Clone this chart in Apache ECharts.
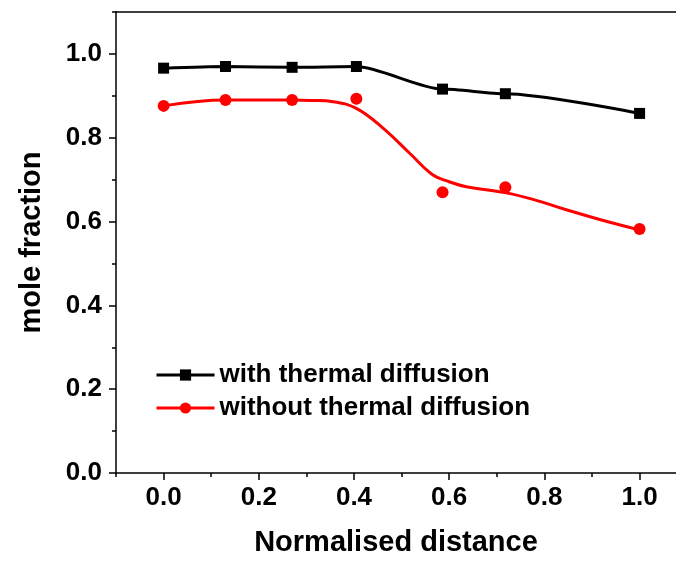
<!DOCTYPE html>
<html>
<head>
<meta charset="utf-8">
<script src="https://cdn.jsdelivr.net/npm/echarts@6/dist/echarts.min.js"></script>
<style>
html,body{margin:0;padding:0;background:#fff;}
#chart{width:676px;height:566px;}
</style>
</head>
<body>
<div id="chart"></div>
<script>
// ---- data ----
const xValues = [0, 0.13, 0.27, 0.405, 0.586, 0.718, 1.0];
const withThermal = [0.966, 0.970, 0.968, 0.970, 0.916, 0.905, 0.858];
const withoutThermal = [0.876, 0.890, 0.890, 0.893, 0.670, 0.682, 0.582];
// smoothed curve drawn through the "without" data
const fitX = [0, 0.13, 0.27, 0.31, 0.356, 0.405, 0.461, 0.517, 0.566, 0.60, 0.636, 0.717, 0.776, 0.846, 0.916, 1.0];
const fitY = [0.876, 0.890, 0.890, 0.889, 0.886, 0.870, 0.823, 0.763, 0.711, 0.695, 0.683, 0.669, 0.653, 0.628, 0.605, 0.580];

const xMajorTicks = [0, 0.2, 0.4, 0.6, 0.8, 1.0];
const xMinorTicks = [-0.1, 0.1, 0.3, 0.5, 0.7, 0.9];
const yMajorTicks = [0, 0.2, 0.4, 0.6, 0.8, 1.0];
const yMinorTicks = [0.1, 0.3, 0.5, 0.7, 0.9, 1.1];

const seriesNames = ['with thermal diffusion', 'without thermal diffusion'];
const xTitle = 'Normalised distance';
const yTitle = 'mole fraction';

const FONT = '"Liberation Sans", Arial, sans-serif';
const zip = (a, b) => a.map((v, i) => [v, b[i]]);
const fmt = v => Number(v).toFixed(1);

const XMIN = -0.1, XMAX = 1.0765, YMIN = 0, YMAX = 1.1;
const axisLine = {show: true, onZero: false, lineStyle: {color: '#000', width: 1.5}};
const noLine = {show: false, onZero: false};

const chart = echarts.init(document.getElementById('chart'), null, {renderer: 'canvas'});
chart.setOption({
  animation: false,
  backgroundColor: '#fff',
  grid: {left: 116, right: 0, top: 12, bottom: 93, containLabel: false},
  xAxis: [
    {
      type: 'value', min: XMIN, max: XMAX, position: 'bottom',
      axisLine: axisLine,
      axisTick: {show: true, customValues: xMajorTicks, length: 7, lineStyle: {color: '#000', width: 1.5}},
      axisLabel: {show: true, customValues: xMajorTicks, formatter: fmt, margin: 12,
        color: '#000', fontSize: 26, fontWeight: 'bold', fontFamily: FONT},
      splitLine: {show: false},
      name: xTitle, nameLocation: 'middle', nameGap: 55,
      nameTextStyle: {color: '#000', fontSize: 29, fontWeight: 'bold', fontFamily: FONT}
    },
    {
      type: 'value', min: XMIN, max: XMAX, position: 'bottom', offset: 0,
      axisLine: noLine,
      axisTick: {show: true, customValues: xMinorTicks, length: 4, lineStyle: {color: '#000', width: 1.5}},
      axisLabel: {show: false},
      splitLine: {show: false}
    },
    {
      type: 'value', min: XMIN, max: XMAX, position: 'top',
      axisLine: axisLine, axisTick: {show: false}, axisLabel: {show: false}, splitLine: {show: false}
    }
  ],
  yAxis: [
    {
      type: 'value', min: YMIN, max: YMAX, position: 'left',
      axisLine: axisLine,
      axisTick: {show: true, customValues: yMajorTicks, length: 7, lineStyle: {color: '#000', width: 1.5}},
      axisLabel: {show: true, customValues: yMajorTicks, formatter: fmt, margin: 14,
        color: '#000', fontSize: 26, fontWeight: 'bold', fontFamily: FONT},
      splitLine: {show: false},
      name: yTitle, nameLocation: 'middle', nameGap: 70, nameRotate: 90,
      nameTextStyle: {color: '#000', fontSize: 29, fontWeight: 'bold', fontFamily: FONT}
    },
    {
      type: 'value', min: YMIN, max: YMAX, position: 'left', offset: 0,
      axisLine: noLine,
      axisTick: {show: true, customValues: yMinorTicks, length: 4, lineStyle: {color: '#000', width: 1.5}},
      axisLabel: {show: false},
      splitLine: {show: false}
    }
  ],
  legend: {
    orient: 'vertical', left: 150, top: 357,
    itemWidth: 58, itemHeight: 14, itemGap: 7,
    textStyle: {color: '#000', fontSize: 26, fontWeight: 'bold', fontFamily: FONT},
    data: [
      {name: seriesNames[0], lineStyle: {opacity: 1, width: 3, color: '#000'}},
      {name: seriesNames[1], lineStyle: {opacity: 1, width: 3, color: '#ff0000'}}
    ]
  },
  series: [
    {
      name: seriesNames[0], type: 'line', xAxisIndex: 0, yAxisIndex: 0,
      data: zip(xValues, withThermal), smooth: 0.25, smoothMonotone: 'x',
      symbol: 'rect', symbolSize: 11,
      itemStyle: {color: '#000'}, lineStyle: {color: '#000', width: 3}, z: 3
    },
    {
      name: 'fit', type: 'line', xAxisIndex: 0, yAxisIndex: 0,
      data: zip(fitX, fitY), smooth: 0.4, symbol: 'none',
      lineStyle: {color: '#ff0000', width: 3}, itemStyle: {color: '#ff0000'}, z: 2
    },
    {
      name: seriesNames[1], type: 'line', xAxisIndex: 0, yAxisIndex: 0,
      data: zip(xValues, withoutThermal),
      symbol: 'circle', symbolSize: 12,
      itemStyle: {color: '#ff0000'}, lineStyle: {color: '#ff0000', width: 0, opacity: 0}, z: 4
    }
  ]
});
</script>
</body>
</html>
